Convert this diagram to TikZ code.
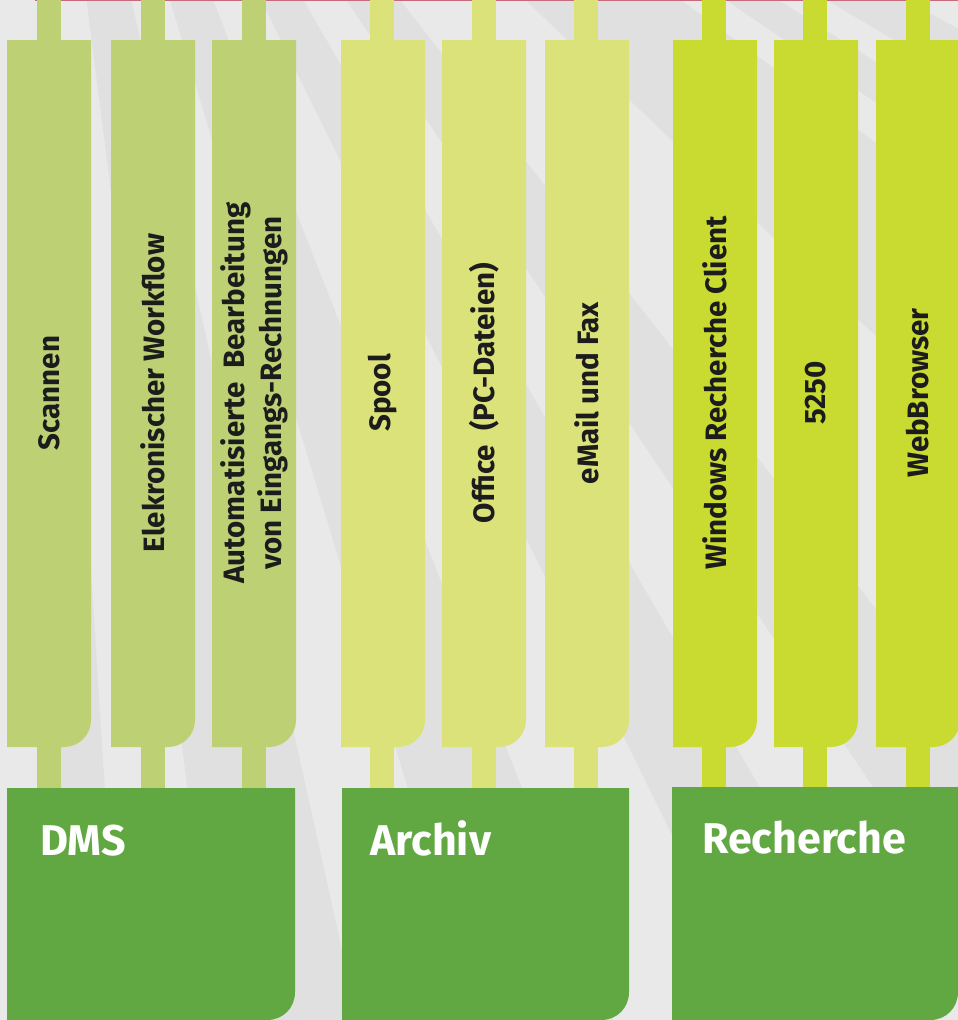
\documentclass[tikz,border=0pt]{standalone}
\usepackage{fontspec}
\setmainfont{Fira Sans}
\definecolor{bglight}{HTML}{E9E9E9}
\definecolor{bgdark}{HTML}{DFE0DF}
\definecolor{dmsc}{HTML}{BDD174}
\definecolor{arcc}{HTML}{DBE279}
\definecolor{recc}{HTML}{C9DA31}
\definecolor{bigbox}{HTML}{61A842}
\definecolor{pinkline}{HTML}{C86A7A}
\definecolor{labtext}{HTML}{1C1C1C}
\tikzset{
  lab/.style={rotate=90, font=\bfseries\fontsize{29.5}{37}\selectfont, text=labtext, align=center, inner sep=0pt},
  ttl/.style={anchor=base west, font=\bfseries\fontsize{43}{50}\selectfont, text=white, inner sep=0pt},
}
\begin{document}
\begin{tikzpicture}[x=1pt,y=-1pt]
\useasboundingbox (0,0) rectangle (958,1020);
\fill[bglight] (0,0) rectangle (958,1020);
\begin{scope}
\clip (0,0) rectangle (958,1020);
\foreach \a/\b in {1.6/3.6, 7.3/12.5, 16.8/21.4, 26.2/30.1, 33.8/38.0, 46.2/53.8, 55.6/57.5, 59.1/61.4, 63.5/66}
  \fill[bgdark] (25,-480) -- ({25+2500*sin(\a)},{-480+2500*cos(\a)}) -- ({25+2500*sin(\b)},{-480+2500*cos(\b)}) -- cycle;
\end{scope}
\draw[pinkline, line width=1.5pt] (35,0.6) -- (958,0.6);
% columns with stems
\foreach \xa/\sa/\col/\nm/\txt in {
  7/37/dmsc/scan/{Scannen},
  111/141/dmsc/wflow/{Elekronischer Workflow},
  212/242/dmsc/auto/{Automatisierte\ \ Bearbeitung\\von Eingangs-Rechnungen},
  341/370/arcc/spool/{Spool},
  442/472/arcc/office/{Office\ \ (PC-Dateien)},
  545/574/arcc/mail/{eMail und Fax},
  673/702/recc/win/{Windows Recherche Client},
  774/803/recc/term/{5250},
  876/906/recc/web/{WebBrowser}}{
  \fill[\col] (\sa,0) rectangle ++(24,41);
  \fill[\col] (\sa,746) rectangle ++(24,43);
  \fill[\col] (\xa,40) -- ({\xa+84},40) -- ({\xa+84},720) .. controls ({\xa+84},735) and ({\xa+72},747) .. ({\xa+57},747) -- (\xa,747) -- cycle;
  \node[lab] (\nm) at ({\xa+42},393) {\txt};
}
% big boxes
\fill[bigbox] (7,788) -- (295,788) -- (295,992) .. controls (295,1008) and (283,1020) .. (267,1020) -- (7,1020) -- cycle;
\fill[bigbox] (342,788) -- (629,788) -- (629,992) .. controls (629,1008) and (617,1020) .. (601,1020) -- (342,1020) -- cycle;
\fill[bigbox] (672,787) -- (958,787) -- (958,992) .. controls (958,1008) and (946,1020) .. (930,1020) -- (672,1020) -- cycle;
\node[ttl] (dms) at (40,855) {DMS};
\node[ttl] (archiv) at (370,855) {Archiv};
\node[ttl] (recherche) at (702,853) {Recherche};
\end{tikzpicture}
\end{document}
